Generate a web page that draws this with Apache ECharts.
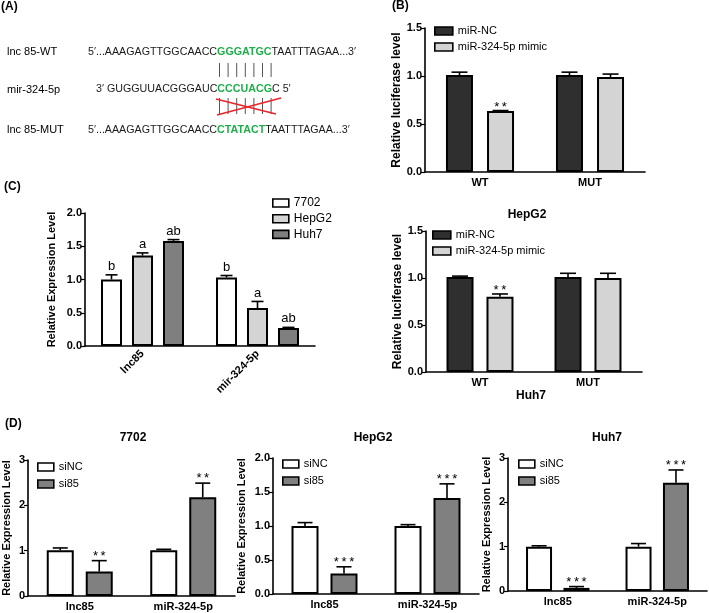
<!DOCTYPE html>
<html><head><meta charset="utf-8">
<script src="https://cdn.jsdelivr.net/npm/echarts@6/dist/echarts.min.js"></script>
<style>html,body{margin:0;padding:0;background:#fff}#c{width:709px;height:613px}</style>
</head><body><div id="c"></div>
<script>
// ---------- Panel A: sequences ----------
const seqLabels = ['lnc 85-WT', 'mir-324-5p', 'lnc 85-MUT'];
const seqWT  = ['5′...AAAGAGTTGGCAACC', 'GGGATGC', 'TAATTTAGAA...3′'];
const seqMir = ['3′ GUGGUUACGGGAUC', 'CCCUACG', 'C 5′'];
const seqMUT = ['5′...AAAGAGTTGGCAACC', 'CTATACT', 'TAATTTAGAA...3′'];

// ---------- Panel B: luciferase ----------
const lucCategories = ['WT', 'MUT'];
const lucNames = ['miR-NC', 'miR-324-5p mimic'];
const lucYTicks = [0.0, 0.5, 1.0, 1.5];
const lucHepG2NC = [1.01, 1.01];
const lucHepG2NCErr = [0.03, 0.03];
const lucHepG2Mimic = [0.635, 0.99];
const lucHepG2MimicErr = [0.005, 0.03];
const lucHepG2Sig = ['**', ''];
const lucHuh7NC = [1.01, 1.01];
const lucHuh7NCErr = [0.01, 0.04];
const lucHuh7Mimic = [0.80, 1.00];
const lucHuh7MimicErr = [0.03, 0.05];
const lucHuh7Sig = ['**', ''];
const lucTitles = ['HepG2', 'Huh7'];

// ---------- Panel C: expression in cell lines ----------
const cellCategories = ['lnc85', 'mir-324-5p'];
const cellNames = ['7702', 'HepG2', 'Huh7'];
const cellYTicks = [0.0, 0.5, 1.0, 1.5, 2.0];
const cell7702 = [1.00, 1.03];
const cell7702Err = [0.07, 0.03];
const cell7702Sig = ['b', 'b'];
const cellHepG2 = [1.36, 0.57];
const cellHepG2Err = [0.04, 0.10];
const cellHepG2Sig = ['a', 'a'];
const cellHuh7 = [1.58, 0.27];
const cellHuh7Err = [0.02, 0.01];
const cellHuh7Sig = ['ab', 'ab'];

// ---------- Panel D: knockdown ----------
const kdCategories = ['lnc85', 'miR-324-5p'];
const kdNames = ['siNC', 'si85'];
const kdTitles = ['7702', 'HepG2', 'Huh7'];
const kd7702YTicks = [0, 1, 2, 3];
const kd7702NC = [1.01, 1.01];
const kd7702NCErr = [0.05, 0.02];
const kd7702Si = [0.54, 2.18];
const kd7702SiErr = [0.24, 0.31];
const kd7702Sig = ['**', '**'];
const kdHepG2YTicks = [0.0, 0.5, 1.0, 1.5, 2.0];
const kdHepG2NC = [1.00, 1.00];
const kdHepG2NCErr = [0.05, 0.02];
const kdHepG2Si = [0.30, 1.41];
const kdHepG2SiErr = [0.10, 0.21];
const kdHepG2Sig = ['***', '***'];
const kdHuh7YTicks = [0, 1, 2, 3];
const kdHuh7NC = [1.00, 1.00];
const kdHuh7NCErr = [0.02, 0.07];
const kdHuh7Si = [0.07, 2.44];
const kdHuh7SiErr = [0.03, 0.29];
const kdHuh7Sig = ['***', '***'];

// ---------- build ----------
const FONT = '"Liberation Sans", Arial, sans-serif';
const option = {
  animation: false, backgroundColor: '#fff',
  textStyle: { fontFamily: FONT },
  grid: [], xAxis: [], yAxis: [], series: [], legend: [], graphic: []
};

function addChart(o) {
  const gi = option.grid.length;
  option.grid.push({ left: o.left, top: o.top, width: o.width, height: o.height, containLabel: false });
  option.xAxis.push({
    type: 'category', gridIndex: gi, data: o.cats,
    axisLine: { lineStyle: { color: '#000', width: 1.6 } },
    axisTick: { alignWithLabel: true, length: 4, lineStyle: { color: '#000', width: 1.2 } },
    axisLabel: { color: '#000', fontWeight: 'bold', fontSize: 11, margin: o.xMargin || 5, rotate: o.rotate || 0, fontFamily: FONT },
    splitLine: { show: false }
  });
  const t = o.yTicks;
  option.yAxis.push({
    type: 'value', gridIndex: gi, min: t[0], max: t[t.length - 1], interval: t[1] - t[0],
    axisLine: { show: true, lineStyle: { color: '#000', width: 1.6 } },
    axisTick: { show: true, length: 4, lineStyle: { color: '#000', width: 1.2 } },
    axisLabel: { color: '#000', fontWeight: 'bold', fontSize: 11, margin: 3, fontFamily: FONT, formatter: v => v.toFixed(o.dec) },
    splitLine: { show: false },
    name: o.yName, nameLocation: 'middle', nameGap: o.nameGap,
    nameTextStyle: { color: '#000', fontWeight: 'bold', fontSize: o.nameSize, fontFamily: FONT }
  });
  const n = o.names.length;
  const step = o.barWidth * (1 + o.barGap);
  o.names.forEach((nm, k) => {
    option.series.push({
      type: 'bar', name: nm, xAxisIndex: gi, yAxisIndex: gi, data: o.means[k],
      barWidth: o.barWidth, barGap: (o.barGap * 100) + '%',
      itemStyle: { color: o.colors[k], borderColor: '#000', borderWidth: 2 }, z: 2, silent: true
    });
    const off = (k - (n - 1) / 2) * step;
    const labels = o.sigs[k];
    const errs = o.errs[k];
    option.series.push({
      type: 'custom', name: nm + ' err', xAxisIndex: gi, yAxisIndex: gi, z: 5, silent: true,
      data: o.means[k].map((m, i) => [i, m, errs[i]]),
      renderItem: (params, api) => {
        const i = api.value(0), m = api.value(1), e = api.value(2);
        const base = api.coord([i, m]);
        const top = api.coord([i, m + e]);
        const cx = base[0] + off;
        const ch = [
          { type: 'line', shape: { x1: cx, y1: base[1], x2: cx, y2: top[1] }, style: { stroke: '#000', lineWidth: 1.6 } },
          { type: 'line', shape: { x1: cx - o.cap, y1: top[1], x2: cx + o.cap, y2: top[1] }, style: { stroke: '#000', lineWidth: 1.6 } }
        ];
        const lab = labels[params.dataIndex];
        if (lab) {
          const txt = o.spaced ? lab.split('').join('\u2009') : lab;
          ch.push({ type: 'text', x: cx, y: top[1] + o.sigDy,
            style: { text: txt, font: o.sigFont, fill: '#000', align: 'center', verticalAlign: 'bottom', textAlign: 'center', textVerticalAlign: 'bottom' } });
        }
        return { type: 'group', children: ch };
      }
    });
  });
  option.legend.push({
    data: o.names, orient: 'vertical', left: o.legLeft, top: o.legTop, padding: 0,
    itemWidth: o.legW, itemHeight: o.legH, itemGap: o.legGap, icon: 'rect', selectedMode: false,
    itemStyle: { borderColor: '#000', borderWidth: 1.6 },
    textStyle: { color: '#000', fontSize: o.legFont, lineHeight: 14, fontFamily: FONT }
  });
}

const lucColors = ['#2f2f2f', '#d4d4d4'];
addChart({ left: 425, top: 28, width: 220, height: 144, cats: lucCategories, names: lucNames,
  means: [lucHepG2NC, lucHepG2Mimic], errs: [lucHepG2NCErr, lucHepG2MimicErr], sigs: [[], lucHepG2Sig],
  colors: lucColors, yTicks: lucYTicks, dec: 1, yName: 'Relative luciferase level', nameSize: 12, nameGap: 22,
  barWidth: 27, barGap: 0.52, cap: 8, sigDy: 3, sigFont: '13px ' + FONT, spaced: true,
  legLeft: 434, legTop: 24, legW: 18, legH: 8, legGap: 2, legFont: 11 });
addChart({ left: 426, top: 231, width: 216, height: 141, cats: lucCategories, names: lucNames,
  means: [lucHuh7NC, lucHuh7Mimic], errs: [lucHuh7NCErr, lucHuh7MimicErr], sigs: [[], lucHuh7Sig],
  colors: lucColors, yTicks: lucYTicks, dec: 1, yName: 'Relative luciferase level', nameSize: 12, nameGap: 22,
  barWidth: 27, barGap: 0.48, cap: 8, sigDy: 3, sigFont: '13px ' + FONT, spaced: true,
  legLeft: 432, legTop: 228, legW: 18, legH: 8, legGap: 2, legFont: 11 });
addChart({ left: 85, top: 213, width: 230, height: 133, cats: cellCategories, names: cellNames,
  means: [cell7702, cellHepG2, cellHuh7], errs: [cell7702Err, cellHepG2Err, cellHuh7Err], sigs: [cell7702Sig, cellHepG2Sig, cellHuh7Sig],
  colors: ['#ffffff', '#d4d4d4', '#7f7f7f'], yTicks: cellYTicks, dec: 1, yName: 'Relative Expression Level', nameSize: 11, nameGap: 28,
  barWidth: 21, barGap: 0.476, cap: 6, sigDy: -2, sigFont: '13px ' + FONT, spaced: false, rotate: 45, xMargin: 6,
  legLeft: 272, legTop: 196, legW: 16, legH: 8, legGap: 1.7, legFont: 12 });
const kdColors = ['#ffffff', '#808080'];
addChart({ left: 27, top: 460, width: 208, height: 136, cats: kdCategories, names: kdNames,
  means: [kd7702NC, kd7702Si], errs: [kd7702NCErr, kd7702SiErr], sigs: [[], kd7702Sig],
  colors: kdColors, yTicks: kd7702YTicks, dec: 0, yName: 'Relative Expression Level', nameSize: 11, nameGap: 16,
  barWidth: 27, barGap: 0.444, cap: 7.5, sigDy: 2, sigFont: '13px ' + FONT, spaced: true,
  legLeft: 37, legTop: 460, legW: 16, legH: 8, legGap: 3, legFont: 11 });
addChart({ left: 273, top: 458, width: 206, height: 136, cats: kdCategories, names: kdNames,
  means: [kdHepG2NC, kdHepG2Si], errs: [kdHepG2NCErr, kdHepG2SiErr], sigs: [[], kdHepG2Sig],
  colors: kdColors, yTicks: kdHepG2YTicks, dec: 1, yName: 'Relative Expression Level', nameSize: 11, nameGap: 26,
  barWidth: 27, barGap: 0.444, cap: 7.5, sigDy: 2, sigFont: '13px ' + FONT, spaced: true,
  legLeft: 282, legTop: 457, legW: 16, legH: 8, legGap: 3, legFont: 11 });
addChart({ left: 508, top: 458, width: 199, height: 133, cats: kdCategories, names: kdNames,
  means: [kdHuh7NC, kdHuh7Si], errs: [kdHuh7NCErr, kdHuh7SiErr], sigs: [[], kdHuh7Sig],
  colors: kdColors, yTicks: kdHuh7YTicks, dec: 0, yName: 'Relative Expression Level', nameSize: 11, nameGap: 16,
  barWidth: 26, barGap: 0.44, cap: 7.5, sigDy: 2, sigFont: '13px ' + FONT, spaced: true,
  legLeft: 518, legTop: 457, legW: 16, legH: 8, legGap: 3, legFont: 11 });

// ---------- texts ----------
function txt(x, y, s, font, align) {
  option.graphic.push({ type: 'text', x: x, y: y, silent: true,
    style: { text: s, font: font, fill: '#000', align: align || 'left', verticalAlign: 'middle', textAlign: align || 'left', textVerticalAlign: 'middle' } });
}
const BOLD12 = 'bold 12px ' + FONT;
txt(1, 7, '(A)', BOLD12); txt(392, 6, '(B)', BOLD12); txt(4, 187, '(C)', BOLD12); txt(5, 424, '(D)', BOLD12);
txt(527, 215, lucTitles[0], BOLD12, 'center');
txt(531, 396, lucTitles[1], BOLD12, 'center');
txt(133, 438, kdTitles[0], BOLD12, 'center');
txt(373, 438, kdTitles[1], BOLD12, 'center');
txt(607, 438, kdTitles[2], BOLD12, 'center');

const SEQ = '10.7px ' + FONT;
const seqY = [52, 89.5, 130];
const seqX = [88, 96, 88];
[seqWT, seqMir, seqMUT].forEach((s, r) => {
  txt(7, seqY[r], seqLabels[r], '11px ' + FONT);
  option.graphic.push({ type: 'text', x: seqX[r], y: seqY[r], silent: true,
    style: { text: '{n|' + s[0] + '}{g|' + s[1] + '}{n|' + s[2] + '}', verticalAlign: 'middle', textVerticalAlign: 'middle',
      rich: { n: { font: SEQ, fill: '#1a1a1a', fontFamily: FONT, fontSize: 10.7 }, g: { font: 'bold ' + SEQ, fill: '#1fae4b', fontFamily: FONT, fontSize: 10.7, fontWeight: 'bold' } } } });
});
for (let i = 0; i < 7; i++) {
  const x = 219.5 + i * 8.6;
  option.graphic.push({ type: 'line', silent: true, shape: { x1: x, y1: 63, x2: x, y2: 77 }, style: { stroke: '#555', lineWidth: 1 } });
  option.graphic.push({ type: 'line', silent: true, shape: { x1: x, y1: 98, x2: x, y2: 114 }, style: { stroke: '#555', lineWidth: 1 } });
}
option.graphic.push({ type: 'line', silent: true, shape: { x1: 216, y1: 99, x2: 276, y2: 114 }, style: { stroke: '#e8262a', lineWidth: 1.4 } });
option.graphic.push({ type: 'line', silent: true, shape: { x1: 217, y1: 115, x2: 281, y2: 98 }, style: { stroke: '#e8262a', lineWidth: 1.4 } });

const chart = echarts.init(document.getElementById('c'), null, { renderer: 'canvas' });
chart.setOption(option);
</script></body></html>
